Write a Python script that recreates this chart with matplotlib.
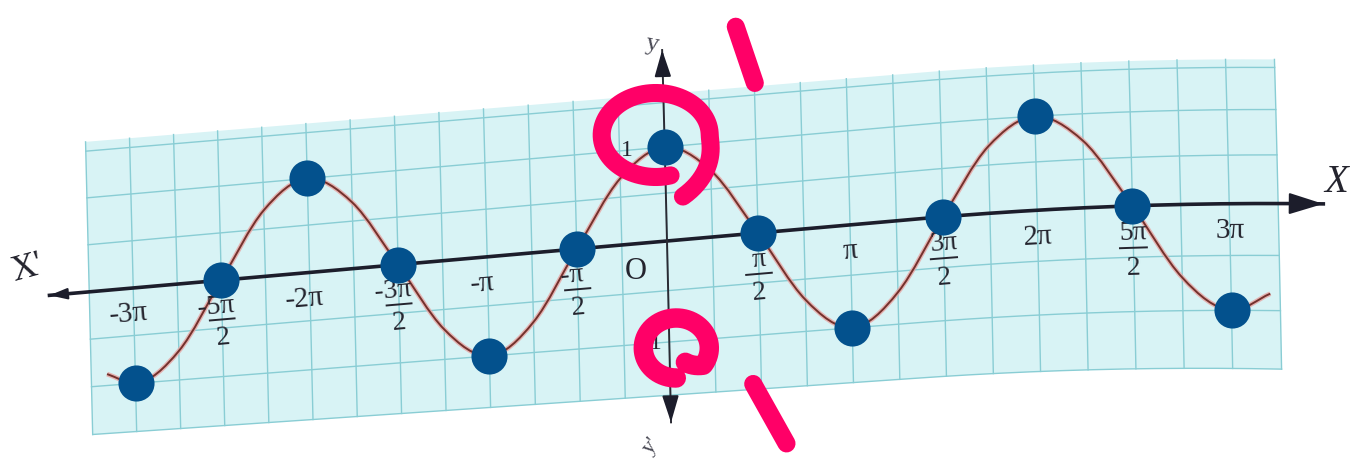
import numpy as np
import matplotlib
matplotlib.use('Agg')
import matplotlib.pyplot as plt
from matplotlib.path import Path
from matplotlib.patches import PathPatch, Polygon
from matplotlib.transforms import Transform

dot_x_pi = [-3, -2.5, -2, -1.5, -1, -0.5, 0, 0.5, 1, 1.5, 2, 2.5, 3]
dot_y = [-1, 0, 1, 0, -1, 0, 1, 0, -1, 0, 1, 0, -1]

curve_x_pi = [-3.16, -3, -2.75, -2.5, -2.25, -2, -1.75, -1.5, -1.25, -1, -0.75, -0.5, -0.25,
              0, 0.25, 0.5, 0.75, 1, 1.25, 1.5, 1.75, 2, 2.25, 2.5, 2.75, 3, 3.2]
curve_y = [-0.88, -1, -0.7, 0, 0.7, 1, 0.7, 0, -0.7, -1, -0.7, 0, 0.7,
           1, 0.7, 0, -0.7, -1, -0.7, 0, 0.7, 1, 0.7, 0, -0.7, -1, -0.85]

whole_x_pi = [-3, -2, -1, 1, 2, 3]
whole_labels = ['-3π', '-2π', '-π', 'π', '2π', '3π']
frac_x_pi = [-2.5, -1.5, -0.5, 0.5, 1.5, 2.5]
frac_num = ['-5π', '-3π', '-π', 'π', '3π', '5π']
frac_den = ['2', '2', '2', '2', '2', '2']

grid_step_x_pi = 0.25
grid_y = [-1.5, -1, -0.5, 0.5, 1, 1.5]

INK = '#24242e'
DOT = '#03518d'
PEN = '#ff0067'
SERIF = 'Liberation Serif'


class PageWarp(Transform):
    """Graph coords (x in radians, y) -> pixel position on the tilted, slightly bent page."""
    input_dims = 2
    output_dims = 2
    is_separable = False
    has_inverse = False

    def transform_non_affine(self, values):
        pts = np.asarray(values, dtype=float)
        flat = pts.ndim == 1
        pts = pts.reshape(-1, 2)
        x, y = pts[:, 0], pts[:, 1]
        u = 57.7 * x + 0.16 * x ** 2 + 0.005 * x ** 3
        px = 667 + u - 2.3 * y
        base = 241 - 0.088 * u + 1.25e-4 * np.clip(u - 250, 0, None) ** 2
        py = base - y * (97.5 + 0.3 * x) + y ** 2 * (3.5 + 0.3 * x)
        out = np.column_stack([px, py])
        return out[0] if flat else out

    def transform_path_non_affine(self, path):
        codes = path.codes
        if codes is None or not np.isin(codes, [Path.CURVE3, Path.CURVE4]).any():
            path = path.interpolated(40)
        return Path(self.transform_non_affine(path.vertices), path.codes)


fig = plt.figure(figsize=(13.53, 4.68), dpi=100)
ax = fig.add_axes([0, 0, 1, 1])
ax.set_xlim(0, 1353)
ax.set_ylim(468, 0)
ax.axis('off')
ax.set_autoscale_on(False)

warp = PageWarp()
page = warp + ax.transData
pi = np.pi


def angle_at(x, y):
    p0 = warp.transform([x, y])
    p1 = warp.transform([x + 0.2, y])
    return np.degrees(np.arctan2(-(p1[1] - p0[1]), p1[0] - p0[0]))


# squared paper
x0, x1 = -13 * pi / 4, 13 * pi / 4
ax.add_patch(Polygon([(x0, -1.5), (x1, -1.5), (x1, 1.6), (x0, 1.6)], closed=True,
                     transform=page, facecolor='#d8f3f5', edgecolor='none', zorder=0))
for k in range(-13, 14):
    gx = k * grid_step_x_pi * pi
    ax.plot([gx, gx], [-1.5, 1.6], transform=page, color='#89cdd4', lw=1.0, zorder=1)
for gy in grid_y:
    ax.plot([x0, x1], [gy, gy], transform=page, color='#89cdd4', lw=1.0, zorder=1)

# axes
ax.plot([-10.92, 10.93], [0, 0], transform=page, color='#1c1d2b', lw=2.6, zorder=3)
ax.plot([0, 0], [-1.75, 2.12], transform=page, color='#2a2a33', lw=1.4, zorder=3)


def arrow_head(tip, back, size):
    ax.annotate('', xy=warp.transform(tip), xytext=warp.transform(back),
                arrowprops=dict(arrowstyle='-|>,head_length=0.9,head_width=0.28',
                                color='#1c1d2b', lw=1.5, shrinkA=0, shrinkB=0,
                                mutation_scale=size), zorder=3)


arrow_head([10.93, 0], [10.4, 0], 24)
arrow_head([-10.92, 0], [-10.6, 0], 12)
arrow_head([0, 2.12], [0, 1.9], 18)
arrow_head([0, -1.75], [0, -1.55], 18)

# the cosine curve as a smooth Bezier path through the read points
cx = np.array(curve_x_pi) * pi
cy = np.array(curve_y, dtype=float)
slope = np.gradient(cy, cx)
verts = [(cx[0], cy[0])]
codes = [Path.MOVETO]
for i in range(len(cx) - 1):
    h = cx[i + 1] - cx[i]
    verts += [(cx[i] + h / 3, cy[i] + slope[i] * h / 3),
              (cx[i + 1] - h / 3, cy[i + 1] - slope[i + 1] * h / 3),
              (cx[i + 1], cy[i + 1])]
    codes += [Path.CURVE4] * 3
curve = Path(verts, codes)
ax.add_patch(PathPatch(curve, transform=page, fill=False, edgecolor='#e7a4a2',
                       lw=3.4, alpha=0.8, zorder=2))
ax.add_patch(PathPatch(curve, transform=page, fill=False, edgecolor='#74312c',
                       lw=1.4, zorder=2))

# tick labels
for xp, lab in zip(whole_x_pi, whole_labels):
    lx = xp * pi - (0.1 if xp < 0 else 0)
    ax.text(lx, -0.27, lab, transform=page, ha='center', va='center', fontsize=21,
            family=SERIF, color=INK, rotation=angle_at(lx, -0.27), rotation_mode='anchor',
            zorder=4)
for xp, num, den in zip(frac_x_pi, frac_num, frac_den):
    fx = xp * pi
    nx = fx - (0.1 if xp < 0 else 0)
    rot = angle_at(fx, -0.4)
    ax.text(nx, -0.27, num, transform=page, ha='center', va='center', fontsize=20,
            family=SERIF, color=INK, rotation=rot, rotation_mode='anchor', zorder=4)
    ax.plot([fx - 0.22, fx + 0.22], [-0.41, -0.41], transform=page, color=INK, lw=1.4, zorder=4)
    ax.text(fx, -0.6, den, transform=page, ha='center', va='center', fontsize=20,
            family=SERIF, color=INK, rotation=rot, rotation_mode='anchor', zorder=4)

ax.text(-0.55, -0.28, 'O', transform=page, ha='center', va='center', fontsize=22,
        family=SERIF, color=INK, zorder=4)
ax.text(-0.65, 1.0, '1', transform=page, ha='center', va='center', fontsize=17,
        family=SERIF, color=INK, zorder=4)
ax.text(-0.3, -1.0, '-1', transform=page, ha='center', va='center', fontsize=17,
        family=SERIF, color=INK, zorder=4)
ax.text(11.15, 0.22, 'X', transform=page, ha='center', va='center', fontsize=28,
        family=SERIF, style='italic', color=INK, zorder=4)
ax.text(-11.3, 0.3, "X'", transform=page, ha='center', va='center', fontsize=25,
        family=SERIF, color=INK, rotation=15, zorder=4)
ax.text(-0.17, 2.2, 'y', transform=page, ha='center', va='center', fontsize=19,
        family=SERIF, color='#4a4a55', rotation=-10, zorder=4)
ax.text(-0.35, -1.95, "y'", transform=page, ha='center', va='center', fontsize=16,
        family=SERIF, color='#4a4a55', rotation=50, zorder=4)

# blue dots at the key points
ax.plot(np.array(dot_x_pi) * pi, dot_y, 'o', ms=26, color=DOT, mec='none',
        transform=page, zorder=6)

# pink pen marks drawn over the photo
cx_up, cy_up = warp.transform([0, 1]) + np.array([-9, -12])
th = np.radians(np.linspace(-74, -431, 200))
r = np.where(th > np.radians(-360), 1.0, 1.0 + 0.55 * ((np.radians(-360) - th) / np.radians(71)) ** 1.5)
ax.plot(cx_up + 54 * r * np.cos(th), cy_up - 42 * r * np.sin(th), color=PEN, lw=13,
        solid_capstyle='round', solid_joinstyle='round', zorder=7)

cx_lo, cy_lo = warp.transform([0, -1]) + np.array([7, 6])
th = np.radians(np.linspace(-90, -420, 200))
r = np.where(th > np.radians(-395), 1.0, 1.0 - 0.45 * (np.radians(-395) - th) / np.radians(25))
ax.plot(cx_lo + 33 * r * np.cos(th), cy_lo - 30 * r * np.sin(th), color=PEN, lw=14,
        solid_capstyle='round', solid_joinstyle='round', zorder=7)

for sx, sy in [([1.28, 1.58], [2.34, 1.64]), ([1.43, 1.98], [-1.45, -2.0])]:
    pts = warp.transform(np.column_stack([sx, sy]))
    ax.plot(pts[:, 0], pts[:, 1], color=PEN, lw=13, solid_capstyle='round', zorder=7)

fig.savefig('out.png', dpi=100)
